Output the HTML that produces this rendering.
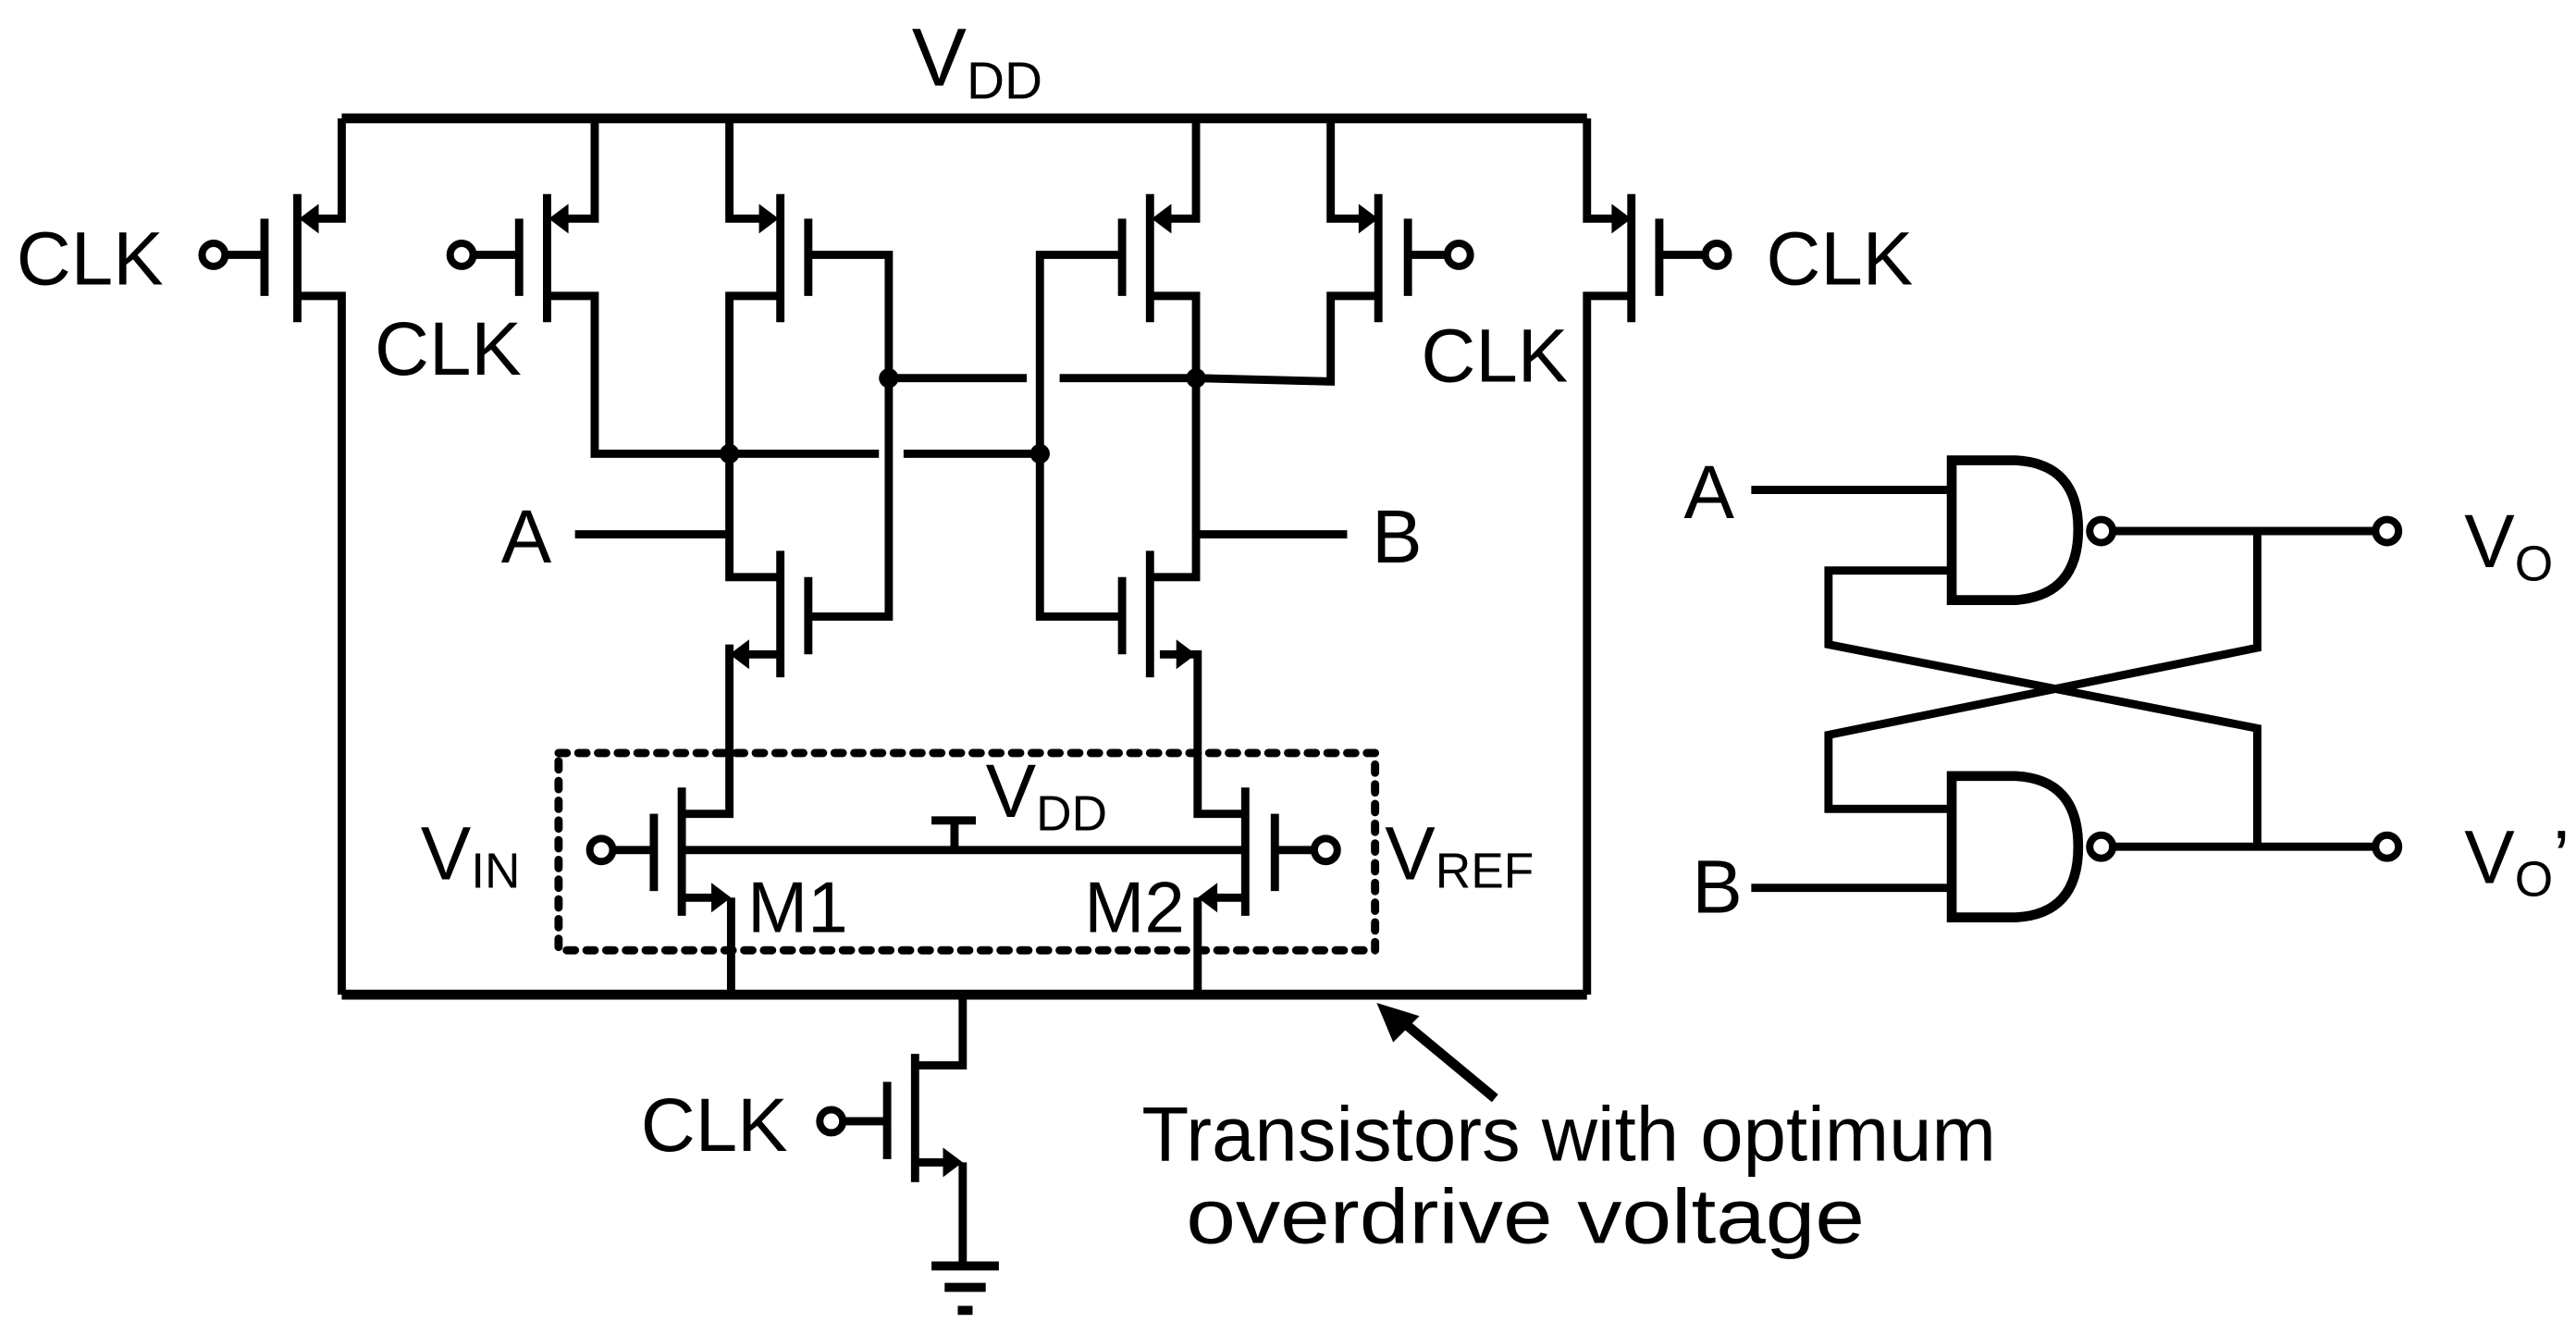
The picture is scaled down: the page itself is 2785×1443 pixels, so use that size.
<!DOCTYPE html>
<html><head><meta charset="utf-8"><style>html,body{margin:0;padding:0;background:#fff}svg{display:block}</style></head>
<body>
<svg width="2785" height="1443" viewBox="0 0 1568 812" preserveAspectRatio="none" xmlns="http://www.w3.org/2000/svg">
<g fill="none" stroke="#000" stroke-width="5" stroke-linejoin="miter">
<path d="M208,72 H966" stroke-width="6"/>
<path d="M208,605 H966" stroke-width="6"/>
<path d="M208,72 V133 H188 M181,118 V196 M161,133 V180 M138,155 H161 M181,180 H208 V605"/>
<path d="M362,72 V133 H340 M333,118 V196 M316,133 V180 M288,155 H316 M333,180 H362 V276 H535 M550,276 H633"/>
<path d="M444,72 V133 H468 M475,118 V196 M492,133 V180 M492,155 H541 V375 H492 M475,180 H444 V351 H475 M350,325 H444"/>
<path d="M475,335 V412 M492,351 V398 M475,398 H450 M444,392 V495 H415"/>
<path d="M415,479 V557 M398,495 V542 M373,517 H398 M415,546 H440 M445,546 V605"/>
<path d="M415,517 H758 M581,517 V499 M567,499 H594"/>
<path d="M758,479 V557 M776,495 V542 M776,517 H800 M758,495 H729 V398 H706 M758,546 H735 M729,546 V605"/>
<path d="M700,335 V412 M683,351 V398 M700,351 H728 V180 H700 M683,375 H633 V155 H683 M728,325 H820"/>
<path d="M728,72 V133 H707 M700,118 V196 M683,133 V180"/>
<path d="M810,72 V133 H832 M839,118 V196 M857,133 V180 M857,155 H881 M839,180 H810 V232 L728,230 M541,230 H625 M645,230 H728"/>
<path d="M966,72 V133 H986 M993,118 V196 M1010,133 V180 M1010,155 H1038 M993,180 H966 V605"/>
<path d="M586,605 V648 H557 M557,641 V719 M540,658 V705 M513,682 H540 M557,707 H580 M586,707 V770"/>
<path d="M567,770 H608 M575,783 H600 M583,797 H592" stroke-width="5.5"/>
<rect x="340" y="458" width="497" height="120" stroke-dasharray="5 7" stroke-linecap="round"/>
<path d="M910,668 L852,620" stroke-width="6"/>
<path d="M1188,280 H1227 Q1265,282 1265,322 Q1265,362 1227,365 H1188 Z" stroke-width="6"/>
<path d="M1188,472 H1227 Q1265,474 1265,515 Q1265,556 1227,558 H1188 Z" stroke-width="6"/>
<path d="M1066,298 H1188 M1188,347 H1113 V392 L1374,443 V515 M1286,323 H1447 M1374,323 V394 L1113,447 V492 H1188 M1066,540 H1188 M1286,515 H1447" stroke-width="5"/>
</g>
<g fill="#000">
<polygon points="182,133 194,124 194,142"/>
<polygon points="334,133 346,124 346,142"/>
<polygon points="474,133 462,124 462,142"/>
<polygon points="444,398 456,389 456,407"/>
<polygon points="445,546 433,537 433,555"/>
<polygon points="729,546 741,537 741,555"/>
<polygon points="728,398 716,389 716,407"/>
<polygon points="701,133 713,124 713,142"/>
<polygon points="839,133 827,124 827,142"/>
<polygon points="993,133 981,124 981,142"/>
<polygon points="586,707 574,698 574,716"/>
<polygon points="838,610 864,618 848,634"/>
<circle cx="444" cy="276" r="6"/><circle cx="633" cy="276" r="6"/>
<circle cx="541" cy="230" r="6"/><circle cx="728" cy="230" r="6"/>
</g>
<g fill="#fff" stroke="#000" stroke-width="4.5">
<circle cx="130" cy="155" r="7"/><circle cx="281" cy="155" r="7"/>
<circle cx="888" cy="155" r="7"/><circle cx="1045" cy="155" r="7"/>
<circle cx="366" cy="517" r="7"/><circle cx="807" cy="517" r="7"/>
<circle cx="506" cy="682" r="7"/>
<circle cx="1279" cy="323" r="7"/><circle cx="1279" cy="515" r="7"/>
<circle cx="1453" cy="323" r="7"/><circle cx="1453" cy="515" r="7"/>
</g>
<g font-family="Liberation Sans, Arial, sans-serif" font-size="46" fill="#000">
<text x="555" y="52" font-size="50">V<tspan font-size="32" dy="8">DD</tspan></text>
<text x="10" y="173">CLK</text>
<text x="228" y="228">CLK</text>
<text x="865" y="232">CLK</text>
<text x="1075" y="173">CLK</text>
<text x="390" y="700">CLK</text>
<text x="305" y="342">A</text>
<text x="835" y="342">B</text>
<text x="256" y="535">V<tspan font-size="30" dy="5">IN</tspan></text>
<text x="843" y="535">V<tspan font-size="30" dy="5">REF</tspan></text>
<text x="455" y="567" font-size="44">M1</text>
<text x="660" y="567" font-size="44">M2</text>
<text x="600" y="497">V<tspan font-size="30" dy="8">DD</tspan></text>
<text x="1025" y="315">A</text>
<text x="1030" y="555">B</text>
<text x="1500" y="345">V<tspan font-size="30" dy="8">O</tspan></text>
<text x="1500" y="537">V<tspan font-size="30" dy="8">O</tspan><tspan dy="-8">’</tspan></text>
<text x="695" y="706" font-size="47" textLength="520" lengthAdjust="spacingAndGlyphs">Transistors with optimum</text>
<text x="722" y="756" font-size="47" textLength="413" lengthAdjust="spacingAndGlyphs">overdrive voltage</text>
</g>
</svg>
</body></html>
